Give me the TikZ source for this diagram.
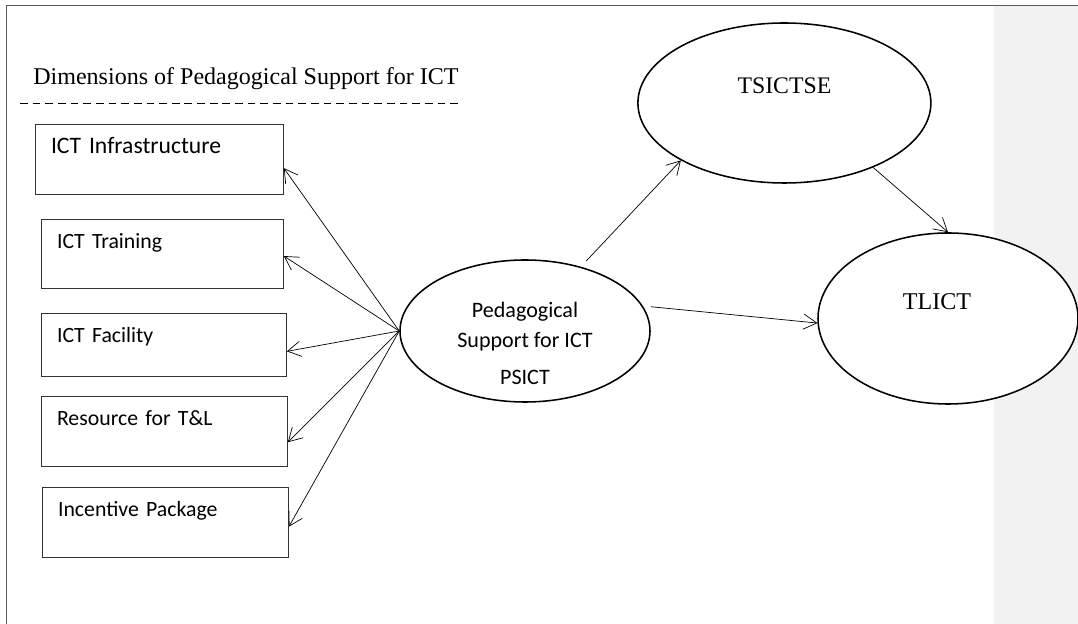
\documentclass[tikz,border=0pt]{standalone}
\usepackage{fontspec}
\setmainfont{Liberation Serif}
\newfontfamily\calibri{Carlito}
\usepackage{tikz}
\usetikzlibrary{arrows.meta,shapes.geometric}
\definecolor{margingray}{HTML}{F2F2F2}
\definecolor{framegray}{HTML}{595959}
\tikzset{
    >={Straight Barb[length=0.33cm,width=0.38cm]},
    dimbox/.style={
        rectangle,
        draw=black!80, line width=0.6pt,
        text width=5.37cm,
        inner xsep=0.39cm, inner ysep=0pt,
        text height=0.725cm, text depth=1.025cm,
        align=left,
        font=\calibri\fontsize{15.5}{21.3}\selectfont,
        anchor=north west
    },
    construct/.style={
        ellipse,
        draw, line width=1.1pt,
        fill=white,
        inner sep=0pt
    },
    line/.style={draw, line width=0.5pt, ->},
}

\begin{document}
\begin{tikzpicture}
\useasboundingbox (0,0) rectangle (26.95,-15.6);
\fill[margingray] (24.85,-0.15) rectangle (26.95,-15.6);
\draw[framegray, line width=0.7pt] (0.15,-15.6) -- (0.15,-0.125) -- (26.95,-0.125);
% dimensions of PSICT
\node(title) at (0.825,-2.125)[anchor=base west, inner sep=0pt, font=\fontsize{17.1}{20}\selectfont]{Dimensions of Pedagogical Support for ICT};
\draw[line width=0.6pt, dash pattern=on 5.5pt off 3.5pt] (0.5,-2.575) -- (11.5,-2.575);
\node(infra) at (0.875,-3.1)[dimbox, text width=5.42cm, font=\calibri\fontsize{16.8}{21.3}\selectfont]{ICT Infrastructure};
\node(train) at (1.025,-5.475)[dimbox, text width=5.27cm, text depth=1cm]{ICT Training};
\node(facility) at (1.025,-7.825)[dimbox, text width=5.345cm, text depth=0.85cm]{ICT Facility};
\node(resource) at (1.025,-9.9)[dimbox]{Resource for T\&L};
\node(incentive) at (1.05,-12.175)[dimbox]{Incentive Package};
% constructs
\node(PSICT) at (13.125,-8.275)[construct, minimum width=6.25cm, minimum height=3.55cm, align=center, inner ysep=-0.1cm,
    font=\calibri\fontsize{15.7}{21.3}\selectfont, text height=2.7cm, text depth=0pt]{Pedagogical\\Support for ICT\\[0.2cm]PSICT};
\node(TSICTSE) at (19.61,-2.575)[construct, minimum width=7.325cm, minimum height=4cm,
    font=\fontsize{16.9}{20}\selectfont, text height=0.4cm, text depth=0.85cm]{TSICTSE};
\node(TLICT) at (23.7,-7.9625)[construct, minimum width=6.5cm, minimum height=4.275cm,
    font=\fontsize{17.1}{20}\selectfont, text height=0.35cm, text depth=0.775cm]{TLICT\kern0.55cm};
% paths
\draw[line] (PSICT.west) -- (infra.-4.4);
\draw[line] (PSICT.west) -- (train.-1.9);
\draw[line] (PSICT.west) -- (facility.-3.9);
\draw[line] (PSICT.west) -- (resource.-5.8);
\draw[line] (PSICT.west) -- (incentive.-2.8);
\draw[line, shorten <=0.2cm] (PSICT.49) -- (TSICTSE.209);
\draw[line] (TSICTSE.-36) -- (TLICT.north);
\draw[line, shorten <=0.2cm] (PSICT.12) -- (TLICT.182);
\end{tikzpicture}
\end{document}
